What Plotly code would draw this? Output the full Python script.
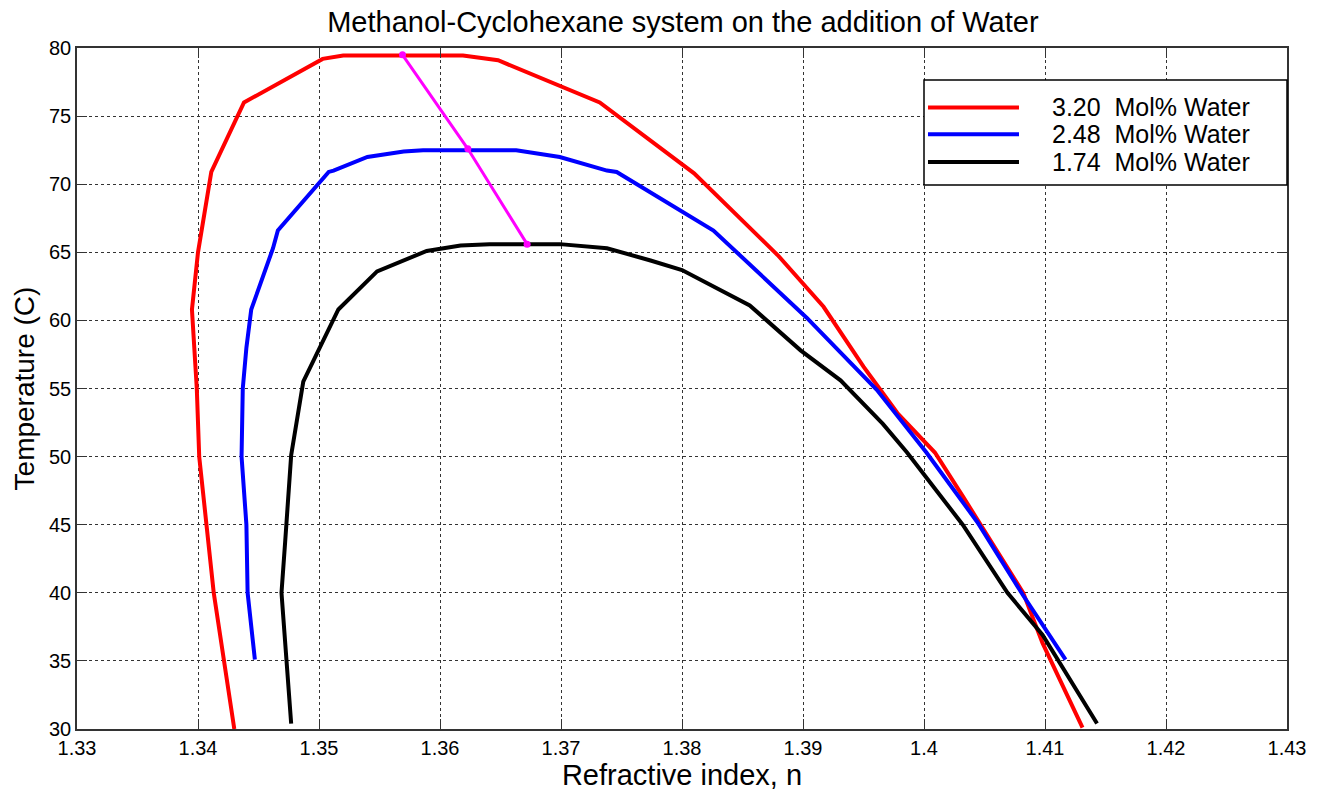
import plotly.graph_objects as go

# ---- data ----
red_n = [1.3430, 1.3413, 1.3407, 1.3401, 1.3399, 1.3397, 1.3396, 1.3395, 1.3400, 1.3411, 1.3438,
         1.3503, 1.3520, 1.3619, 1.3648, 1.3732, 1.3810, 1.3879, 1.3917, 1.3950, 1.3978, 1.4009,
         1.4032, 1.4049, 1.4082, 1.4098, 1.4131]
red_t = [30.0, 40.0, 45.0, 50.0, 55.0, 58.0, 60.0, 60.8, 65.0, 70.9, 76.0,
         79.2, 79.45, 79.45, 79.1, 76.0, 70.8, 64.8, 61.0, 56.6, 53.2, 50.3,
         47.1, 44.7, 40.0, 36.3, 30.1]

blue_n = [1.3447, 1.3441, 1.3440, 1.3436, 1.3437, 1.3440, 1.3444, 1.3462, 1.3466, 1.3508, 1.3512,
          1.3540, 1.3570, 1.3586, 1.3663, 1.3699, 1.3738, 1.3746, 1.3826, 1.3903, 1.3961, 1.4002,
          1.4044, 1.4082, 1.4117]
blue_t = [35.1, 40.0, 45.0, 50.0, 55.0, 58.0, 60.8, 65.3, 66.6, 70.9, 71.0,
          72.0, 72.4, 72.5, 72.5, 72.0, 71.0, 70.9, 66.6, 60.2, 54.9, 50.3,
          45.2, 39.8, 35.1]

black_n = [1.3477, 1.3473, 1.3469, 1.3472, 1.3477, 1.3487, 1.3516, 1.3548, 1.3589, 1.3617, 1.3641,
           1.3699, 1.3738, 1.3774, 1.3800, 1.3856, 1.3898, 1.3931, 1.3966, 1.3986, 1.4032, 1.4069,
           1.4098, 1.4143]
black_t = [30.4, 35.0, 40.0, 43.7, 50.1, 55.5, 60.8, 63.6, 65.1, 65.5, 65.6,
           65.6, 65.3, 64.4, 63.7, 61.1, 57.8, 55.6, 52.4, 50.3, 45.0, 40.0,
           36.9, 30.4]

max_n = [1.3569, 1.3623, 1.3672]
max_t = [79.5, 72.6, 65.6]

labels = ["3.20  Mol% Water", "2.48  Mol% Water", "1.74  Mol% Water"]
colors = ["#ff0000", "#0000ff", "#000000"]

x_ticks = [1.33, 1.34, 1.35, 1.36, 1.37, 1.38, 1.39, 1.40, 1.41, 1.42, 1.43]
x_tick_text = ["1.33", "1.34", "1.35", "1.36", "1.37", "1.38", "1.39", "1.4", "1.41", "1.42", "1.43"]
y_ticks = [30, 35, 40, 45, 50, 55, 60, 65, 70, 75, 80]

FONT = "Liberation Sans, Arial, sans-serif"

fig = go.Figure()
for xs, ys, c, lab in zip([red_n, blue_n, black_n], [red_t, blue_t, black_t], colors, labels):
    fig.add_trace(go.Scatter(x=xs, y=ys, mode="lines", name=lab,
                             line=dict(color=c, width=4), showlegend=False))

fig.add_trace(go.Scatter(x=max_n, y=max_t, mode="lines+markers", name="maxima",
                         line=dict(color="#ff00ff", width=3),
                         marker=dict(color="#ff00ff", size=7), showlegend=False))

# manual MATLAB-style legend
leg_x0, leg_x1, leg_y0, leg_y1 = 0.700, 1.0, 0.799, 0.953
shapes = [dict(type="rect", xref="paper", yref="paper", x0=leg_x0, x1=leg_x1, y0=leg_y0, y1=leg_y1,
               line=dict(color="black", width=1.5), fillcolor="white", layer="above")]
row_y = [0.9127, 0.8734, 0.8326]
annotations = []
for yy, c, lab in zip(row_y, colors, labels):
    shapes.append(dict(type="line", xref="paper", yref="paper", x0=0.7033, x1=0.7785, y0=yy, y1=yy,
                       line=dict(color=c, width=4), layer="above"))
    annotations.append(dict(xref="paper", yref="paper", x=0.8045, y=yy,
                            text=lab.replace("  ", "\u00a0 "), showarrow=False,
                            xanchor="left", yanchor="middle",
                            font=dict(family=FONT, size=25, color="black")))

axis_common = dict(showline=True, linecolor="#333333", linewidth=1.5, mirror="ticks",
                   ticks="inside", ticklen=10, tickwidth=1, tickcolor="#333333",
                   showgrid=True, gridcolor="#333333", gridwidth=1, griddash="3px,3px",
                   zeroline=False, tickfont=dict(family=FONT, size=20, color="black"))

fig.update_layout(
    width=1326, height=793,
    margin=dict(l=77, r=39, t=48, b=58),
    paper_bgcolor="white", plot_bgcolor="white",
    title=dict(text="Methanol-Cyclohexane system on the addition of Water",
               x=0.515, xanchor="center", y=0.972, yanchor="middle",
               font=dict(family=FONT, size=29, color="black")),
    xaxis=dict(range=[1.33, 1.43], tickvals=x_ticks, ticktext=x_tick_text,
               title=dict(text="Refractive index, n", font=dict(family=FONT, size=29, color="black"), standoff=2),
               **axis_common),
    yaxis=dict(range=[30, 80], tickvals=y_ticks,
               title=dict(text="Temperature (C)", font=dict(family=FONT, size=28, color="black"), standoff=6),
               **axis_common),
    shapes=shapes,
    annotations=annotations,
)

fig.write_html("out.html")
